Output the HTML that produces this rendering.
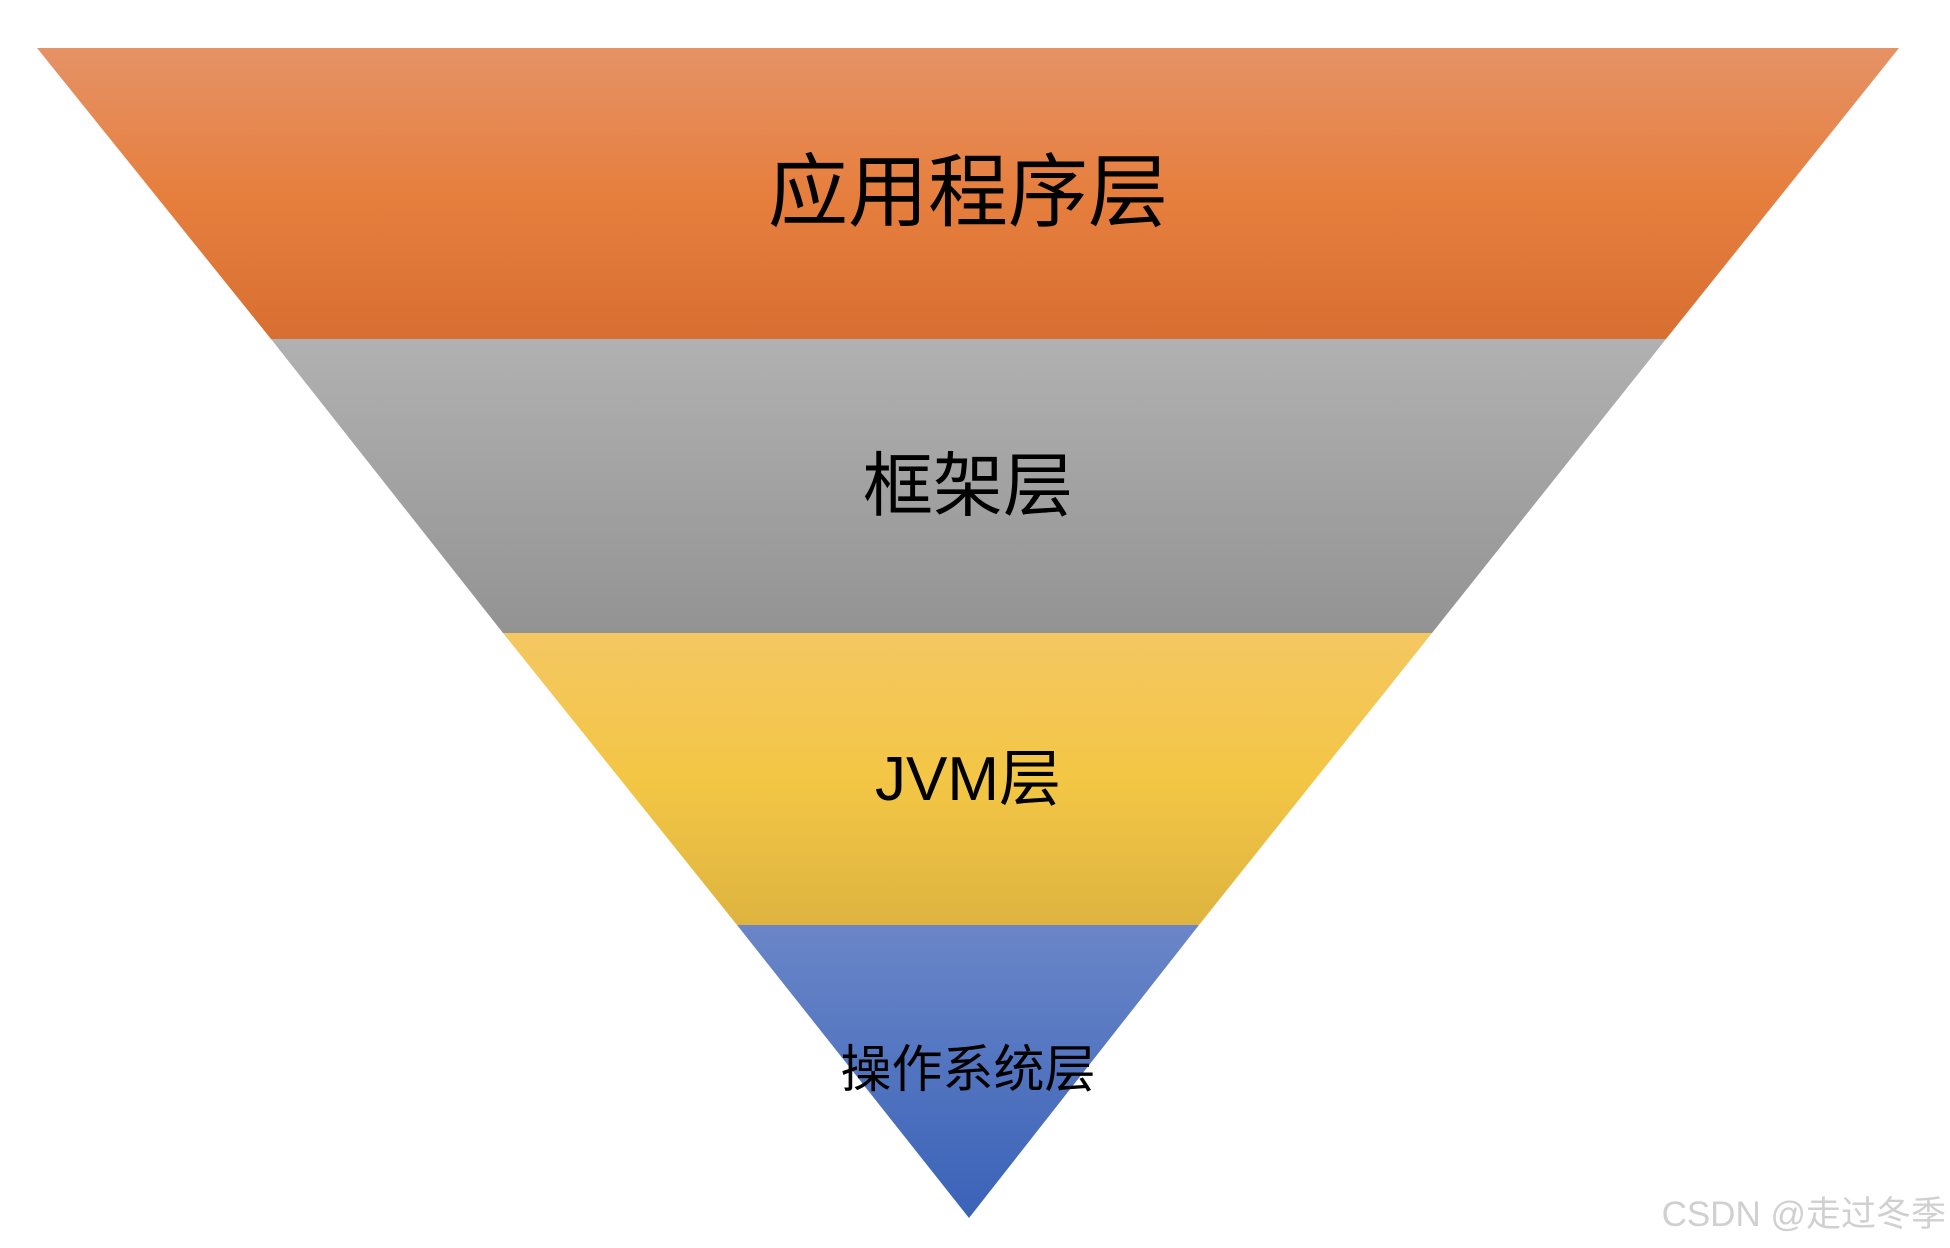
<!DOCTYPE html>
<html><head><meta charset="utf-8"><style>
html,body{margin:0;padding:0;background:#fff;width:1950px;height:1248px;overflow:hidden}
svg{display:block}
text{font-family:"Liberation Sans","Noto Sans CJK SC",sans-serif;fill:#000}
</style></head><body>
<svg width="1950" height="1248" viewBox="0 0 1950 1248">
<defs>
<linearGradient id="o" x1="0" y1="0" x2="0" y2="1"><stop offset="0" stop-color="#e59266"/><stop offset="0.5" stop-color="#e67f3e"/><stop offset="1" stop-color="#d86f32"/></linearGradient>
<linearGradient id="g" x1="0" y1="0" x2="0" y2="1"><stop offset="0" stop-color="#b1b1b1"/><stop offset="1" stop-color="#939393"/></linearGradient>
<linearGradient id="y" x1="0" y1="0" x2="0" y2="1"><stop offset="0" stop-color="#f4c762"/><stop offset="0.5" stop-color="#f3c645"/><stop offset="1" stop-color="#deb43f"/></linearGradient>
<linearGradient id="b" x1="0" y1="0" x2="0" y2="1"><stop offset="0" stop-color="#6a86c8"/><stop offset="1" stop-color="#3a62b8"/></linearGradient>
</defs>
<polygon points="37,48 1899,48 1666,339 271,339" fill="url(#o)"/>
<polygon points="271,339 1666,339 1432,633 503,633" fill="url(#g)"/>
<polygon points="503,633 1432,633 1199,925 737,925" fill="url(#y)"/>
<polygon points="737,925 1199,925 969,1218" fill="url(#b)"/>
<text x="968" y="220" font-size="80" text-anchor="middle">应用程序层</text>
<text x="968" y="510" font-size="70" text-anchor="middle">框架层</text>
<text x="968" y="800" font-size="62" text-anchor="middle">JVM层</text>
<text x="968" y="1087" font-size="51" text-anchor="middle">操作系统层</text>
<text x="1946" y="1226" font-size="35" text-anchor="end" style="fill:#d0d0d0">CSDN @走过冬季</text>
</svg>
</body></html>
